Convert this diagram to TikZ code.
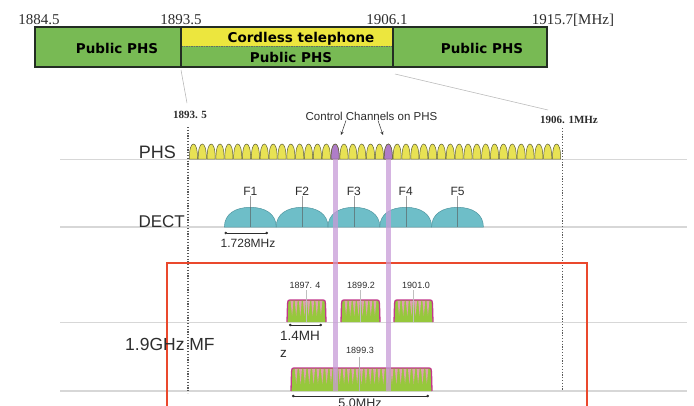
\documentclass[tikz,border=0pt]{standalone}
\usepackage{fontspec}
\setmainfont{Liberation Sans}
\newfontfamily\djb{DejaVu Sans}
\newfontfamily\lserif{Liberation Serif}
\usetikzlibrary{arrows.meta}
\definecolor{barGreen}{RGB}{120,186,84}
\definecolor{barYellow}{RGB}{236,230,62}
\definecolor{barEdge}{RGB}{35,45,35}
\definecolor{phsYellow}{RGB}{232,226,84}
\definecolor{phsEdge}{RGB}{95,95,55}
\definecolor{phsPurple}{RGB}{175,125,200}
\definecolor{dectTeal}{RGB}{110,190,200}
\definecolor{dectEdge}{RGB}{80,150,160}
\definecolor{mfGreen}{RGB}{150,200,60}
\definecolor{mfMag}{RGB}{195,55,140}
\definecolor{mfPink}{RGB}{238,150,200}
\definecolor{ctrlBar}{RGB}{200,155,215}
\definecolor{redBox}{RGB}{234,72,45}
\definecolor{guide}{RGB}{215,215,215}
\definecolor{txt}{RGB}{45,45,45}
\tikzset{
  axisline/.style={guide, line width=1.5pt},
  dotline/.style={gray!70!black, line width=1.2pt, dash pattern=on 1.2pt off 1.6pt},
  phshump/.style={fill=phsYellow, draw=phsEdge, line width=0.5pt},
  ctrlhump/.style={fill=phsPurple, draw=phsEdge, line width=0.5pt},
  decthump/.style={fill=dectTeal, draw=dectEdge, line width=0.5pt},
  tick/.style={gray!60!black, line width=0.4pt},
  dim/.style={txt, line width=0.6pt, {Circle[length=2.6pt]}-{Circle[length=2.6pt]}},
  bartext/.style={font=\djb\bfseries\fontsize{13.5}{15}\selectfont, text=black, inner sep=0pt},
  freqtext/.style={font=\lserif\fontsize{15}{17}\selectfont, text=txt, inner sep=0pt},
  rowlabel/.style={text=txt, inner sep=0pt},
  small/.style={font=\fontsize{9}{10}\selectfont, text=txt, inner sep=0pt},
  ctrlptr/.style={txt, line width=0.5pt, -{Stealth[length=3.5pt,width=3pt]}},
}
\newcommand\mfblk[4]{%
  \fill[mfGreen] (#1,#4) -- (#1+0.5,#3+5) .. controls (#1+0.8,#3) .. (#1+5,#3) -- (#2-5,#3) .. controls (#2-0.8,#3) .. (#2-0.5,#3+5) -- (#2,#4) -- cycle;
  \pgfmathtruncatemacro\nsp{(#2-#1-6)/4.4}
  \pgfmathsetmacro\wsp{(#2-#1-6)/(\nsp+1)}
  \foreach \k in {0,...,\nsp}{
    \fill[mfPink, opacity=0.85] (#1+3+\k*\wsp+0.5*\wsp-1.4,#3+1.2) -- (#1+3+\k*\wsp+0.5*\wsp+1.4,#3+1.2) -- (#1+3+\k*\wsp+0.5*\wsp,#3+16) -- cycle;
  }
  \draw[mfMag, line width=1.3pt] (#1,#4) -- (#1+0.5,#3+5) .. controls (#1+0.8,#3) .. (#1+5,#3) -- (#2-5,#3) .. controls (#2-0.8,#3) .. (#2-0.5,#3+5) -- (#2,#4);
}
\begin{document}
\begin{tikzpicture}[x=1pt,y=-1pt]
\useasboundingbox (0,0) rectangle (694,405);
\fill[white] (0,0) rectangle (694,405);

% ---------- top band plan ----------
\fill[barGreen] (35,27) rectangle (547,67);
\fill[barYellow] (181,27) rectangle (393,46);
\draw[barEdge!70, line width=0.4pt, dash pattern=on 1.5pt off 1pt] (181,46) -- (393,46);
\draw[barEdge, line width=1.4pt] (35,27) rectangle (547,67);
\draw[barEdge, line width=1.4pt] (181,27) -- (181,67);
\draw[barEdge, line width=1.4pt] (393,27) -- (393,67);

\node[freqtext, anchor=base] (f1) at (39,24) {1884.5};
\node[freqtext, anchor=base] (f2) at (181,24) {1893.5};
\node[freqtext, anchor=base] (f3) at (387,24) {1906.1};
\node[freqtext, anchor=base] (f4) at (573,24) {1915.7[MHz]};

\node[bartext, anchor=base] (pub1) at (117,53) {Public PHS};
\node[bartext, anchor=base] (cord) at (301,42) {Cordless telephone};
\node[bartext, anchor=base] (pub2) at (291,62) {Public PHS};
\node[bartext, anchor=base] (pub3) at (482,53) {Public PHS};

% zoom guide lines
\coordinate (gL1) at (181,70);
\coordinate (gL2) at (187,103);
\coordinate (gR1) at (395,74);
\coordinate (gR2) at (548,110);
\draw[gray!60, line width=0.5pt] (gL1) -- (gL2);
\draw[gray!60, line width=0.5pt] (gR1) -- (gR2);

\node[font=\lserif\bfseries\fontsize{11}{12}\selectfont, text=txt, inner sep=0pt] (lo) at (190,115) {1893. 5};
\node[font=\lserif\bfseries\fontsize{11}{12}\selectfont, text=txt, inner sep=0pt] (hi) at (569,120) {1906. 1MHz};

% ---------- axis lines ----------
\draw[axisline] (60,159.5) -- (687,159.5);
\draw[axisline] (60,227) -- (687,227);
\draw[axisline] (60,322.5) -- (687,322.5);
\draw[axisline] (60,391) -- (687,391);

% dotted edge lines
\coordinate (dl1) at (188,127);
\coordinate (dl2) at (188,393);
\coordinate (dr1) at (562.5,128);
\coordinate (dr2) at (562.5,391);
\draw[dotline] (dl1) -- (dl2);
\draw[dotline] (dr1) -- (dr2);

% red frame
\draw[redBox, line width=1.6pt] (167,410) -- (167,263) -- (587,263) -- (587,410);

% ---------- PHS channels ----------
\foreach \i in {0,...,41}{
  \pgfmathsetmacro\cx{189+8.857*(\i+0.5)}
  \draw[phshump] (\cx-4.1,159) .. controls (\cx-4.1,149) and (\cx-2.4,144) .. (\cx,144) .. controls (\cx+2.4,144) and (\cx+4.1,149) .. (\cx+4.1,159) -- cycle;
}
\foreach \i in {16,22}{
  \pgfmathsetmacro\cx{189+8.857*(\i+0.5)}
  \draw[ctrlhump] (\cx-4.1,159) .. controls (\cx-4.1,149) and (\cx-2.4,144) .. (\cx,144) .. controls (\cx+2.4,144) and (\cx+4.1,149) .. (\cx+4.1,159) -- cycle;
}
\node[rowlabel, font=\fontsize{18}{20}\selectfont, anchor=base east] (phs) at (176,158) {PHS};
\node[rowlabel, font=\fontsize{11.5}{13}\selectfont] (ctrl) at (371.5,116) {Control Channels on PHS};
\coordinate (cp1) at (341,135);
\coordinate (cp2) at (383,135);
\draw[ctrlptr] (ctrl.south -| 346,0) -- (cp1);
\draw[ctrlptr] (ctrl.south -| 378,0) -- (cp2);

% ---------- DECT ----------
\foreach \n/\cx in {1/250.3,2/302.1,3/353.9,4/405.7,5/457.5}{
  \draw[decthump] (\cx-25.9,227) .. controls (\cx-25.9,214) and (\cx-15,207.3) .. (\cx,207.3) .. controls (\cx+15,207.3) and (\cx+25.9,214) .. (\cx+25.9,227) -- cycle;
  \draw[tick, gray!70!black, opacity=0.6] (\cx,196) -- (\cx,227);
  \node[rowlabel, font=\fontsize{12}{13}\selectfont, anchor=base] (F\n) at (\cx,195) {F\n};
}
\node[rowlabel, font=\fontsize{17}{19}\selectfont, anchor=base east] (dect) at (185,227) {DECT};
\coordinate (da) at (224.5,233);
\coordinate (db) at (268,233);
\draw[dim] (da) -- (db);
\node[rowlabel, font=\fontsize{12}{13}\selectfont] (dectw) at (248,243) {1.728MHz};

% ---------- 1.9GHz MF ----------
\mfblk{287}{326}{300}{322}
\mfblk{341}{380}{300}{322}
\mfblk{394}{433}{300}{322}
\mfblk{291}{432}{368}{391}
\draw[tick, gray!50] (306.5,290) -- (306.5,322);
\draw[tick, gray!50] (360.5,290) -- (360.5,322);
\draw[tick, gray!50] (413.5,290) -- (413.5,322);
\draw[tick, gray!60] (359,357) -- (359,391);

\node[small] (m1) at (305,285) {1897. 4};
\node[small] (m2) at (361,285) {1899.2};
\node[small] (m3) at (416,285) {1901.0};
\node[small] (m4) at (360,350) {1899.3};

\node[rowlabel, font=\fontsize{17.5}{19}\selectfont, anchor=base west] (mf) at (125,350) {1.9GHz MF};

\coordinate (ma) at (289,325);
\coordinate (mb) at (322,325);
\draw[dim] (ma) -- (mb);
\node[rowlabel, font=\fontsize{13.5}{17}\selectfont, anchor=north west, align=left] (mfw) at (280,331) {1.4MH\\z};

\coordinate (wa) at (292,396);
\coordinate (wb) at (429,396);
\draw[dim] (wa) -- (wb);
\node[rowlabel, font=\fontsize{12.5}{14}\selectfont, anchor=north] (wide) at (360,399) {5.0MHz};

% ---------- control channel bars ----------
\coordinate (b1t) at (335.1,159);
\coordinate (b1b) at (335.1,391);
\coordinate (b2t) at (388.3,159);
\coordinate (b2b) at (388.3,391);
\draw[ctrlBar, opacity=0.75, line width=5pt] (b1t) -- (b1b);
\draw[ctrlBar, opacity=0.75, line width=5pt] (b2t) -- (b2b);
\end{tikzpicture}
\end{document}
